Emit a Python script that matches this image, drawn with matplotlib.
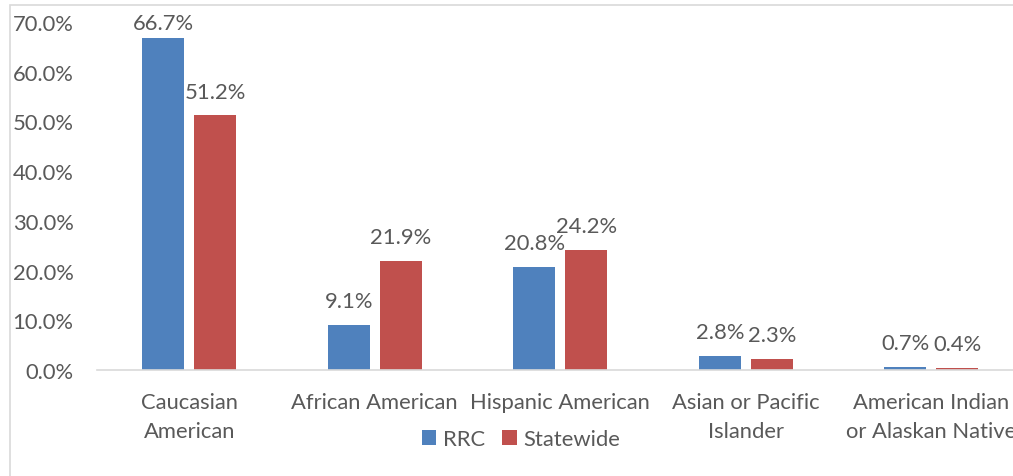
import matplotlib.pyplot as plt
from matplotlib.patches import Rectangle
import numpy as np

plt.rcParams['font.family'] = ['Lato', 'DejaVu Sans']

categories = ['Caucasian\nAmerican', 'African American', 'Hispanic American',
              'Asian or Pacific\nIslander', 'American Indian\nor Alaskan Native']
rrc = [66.7, 9.1, 20.8, 2.8, 0.7]
statewide = [51.2, 21.9, 24.2, 2.3, 0.4]
yticks = [0, 10, 20, 30, 40, 50, 60, 70]

blue = '#4F81BD'
red = '#C0504D'
grey = '#595959'
fs = 15.8

W, H = 1013, 477
fig = plt.figure(figsize=(W / 100, H / 100), dpi=100)

# chart border (clipped on right / bottom like the original)
fig.patches.append(Rectangle((10 / W, -0.1), 1.2, 1 - 6 / H + 0.1,
                             transform=fig.transFigure, fill=False,
                             edgecolor='#D9D9D9', lw=1.2))

# plot area: 0% at y=371, 70% at y=23; categories 185.5 px apart
y0, y70 = 371, 23
left = 96.5
step = 185.5
ax = fig.add_axes([left / W, 1 - y0 / H, 5 * step / W, (y0 - y70) / H])

x = np.arange(len(categories))
wd = 0.226
off = 0.14
b1 = ax.bar(x - off, rrc, wd, color=blue, label='RRC')
b2 = ax.bar(x + off, statewide, wd, color=red, label='Statewide')

# labels float ~24px above the bar, kept inside the plot area at the top
for bars, vals in ((b1, rrc), (b2, statewide)):
    for b, v in zip(bars, vals):
        ax.text(b.get_x() + b.get_width() / 2, min(v + 4.8, 69.8), f'{v:.1f}%',
                ha='center', va='center', fontsize=fs, color=grey)

ax.set_xlim(-0.5, 4.5)
ax.set_ylim(0, 70)
ax.set_yticks(yticks)
ax.set_yticklabels([f'{t:.1f}%' for t in yticks])
ax.set_xticks(x)
ax.set_xticklabels(categories, linespacing=1.55)
ax.tick_params(axis='y', length=0, labelsize=fs, labelcolor=grey, pad=16.5)
ax.tick_params(axis='x', length=0, labelsize=fs, labelcolor=grey, pad=16)
for s in ('top', 'right', 'left'):
    ax.spines[s].set_visible(False)
ax.spines['bottom'].set_color('#D9D9D9')
ax.spines['bottom'].set_linewidth(1.2)
ax.patch.set_visible(False)

fig.legend(handles=[b1, b2], labels=['RRC', 'Statewide'], loc='center',
           bbox_to_anchor=(521 / W, 1 - 440 / H),
           ncol=2, frameon=False, fontsize=fs, labelcolor=grey,
           handlelength=0.65, handleheight=0.65, handletextpad=0.3,
           columnspacing=0.8)

fig.savefig('out.png', dpi=100)
